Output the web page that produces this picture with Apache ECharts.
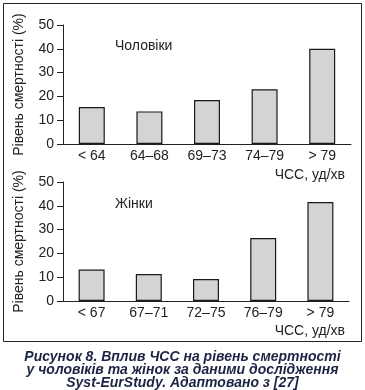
<!DOCTYPE html>
<html><head><meta charset="utf-8">
<script src="https://cdn.jsdelivr.net/npm/echarts@6/dist/echarts.min.js"></script>
<style>html,body{margin:0;padding:0;background:#fff}#c{width:365px;height:390px}</style>
</head><body><div id="c"></div>
<script>
var menCategories = ['< 64', '64–68', '69–73', '74–79', '> 79'];
var menValues = [15.5, 13.7, 18.5, 23, 40];
var womenCategories = ['< 67', '67–71', '72–75', '76–79', '> 79'];
var womenValues = [13.2, 11.3, 9.2, 26.5, 41.6];
var yTicks = [0, 10, 20, 30, 40, 50];
var yLabel = 'Рівень смертності (%)';
var xLabel = 'ЧСС, уд/хв';
var menTitle = 'Чоловіки';
var womenTitle = 'Жінки';
var caption = 'Рисунок 8. Вплив ЧСС на рівень смертності\nу чоловіків та жінок за даними дослідження\nSyst-EurStudy. Адаптовано з [27]';

var txt = '#222';
var font = 'Liberation Sans, Arial, sans-serif';
function yAxis(idx){
  return {gridIndex: idx, type:'value', min: yTicks[0], max: yTicks[yTicks.length-1], interval: 10,
    axisLine:{show:true, lineStyle:{color:'#222', width:1}},
    axisTick:{show:true, length:6, lineStyle:{color:'#222'}},
    splitLine:{show:false},
    axisLabel:{color:txt, fontSize:14, fontFamily:font, margin:9},
    name: yLabel, nameLocation:'middle', nameRotate:90, nameGap:37,
    nameTextStyle:{color:txt, fontSize:14, fontFamily:font}};
}
function xAxis(idx, cats){
  return {gridIndex: idx, type:'category', data: cats,
    axisLine:{show:true, lineStyle:{color:'#222', width:1}},
    axisTick:{show:false},
    axisLabel:{color:txt, fontSize:14, fontFamily:font, margin:5}};
}
var barStyle = {color:'#d4d4d4', borderColor:'#1a1a1a', borderWidth:1.2};
var chart = echarts.init(document.getElementById('c'));
chart.setOption({
  animation:false,
  grid:[{left:63, right:14, top:25, height:119},{left:63, right:16, top:182, height:119}],
  xAxis:[xAxis(0, menCategories), xAxis(1, womenCategories)],
  yAxis:[yAxis(0), yAxis(1)],
  series:[
    {type:'bar', xAxisIndex:0, yAxisIndex:0, data: menValues, barWidth:26, itemStyle:barStyle},
    {type:'bar', xAxisIndex:1, yAxisIndex:1, data: womenValues, barWidth:26, itemStyle:barStyle}
  ],
  title:{text: caption, left:'center', top:345,
    textStyle:{color:'#1c2444', fontSize:14, fontWeight:'bold', fontStyle:'italic', fontFamily:font, lineHeight:13.3}},
  graphic:[
    {type:'rect', shape:{x:3.5, y:3.5, width:358, height:338}, style:{fill:null, stroke:'#222', lineWidth:1}, silent:true},
    {type:'text', left:115, top:39, style:{text:menTitle, fill:txt, font:'14px '+font}},
    {type:'text', left:115, top:197, style:{text:womenTitle, fill:txt, font:'14px '+font}},
    {type:'text', right:20, top:168, style:{text:xLabel, fill:txt, font:'14px '+font}},
    {type:'text', right:20, top:324, style:{text:xLabel, fill:txt, font:'14px '+font}}
  ]
});
</script></body></html>
